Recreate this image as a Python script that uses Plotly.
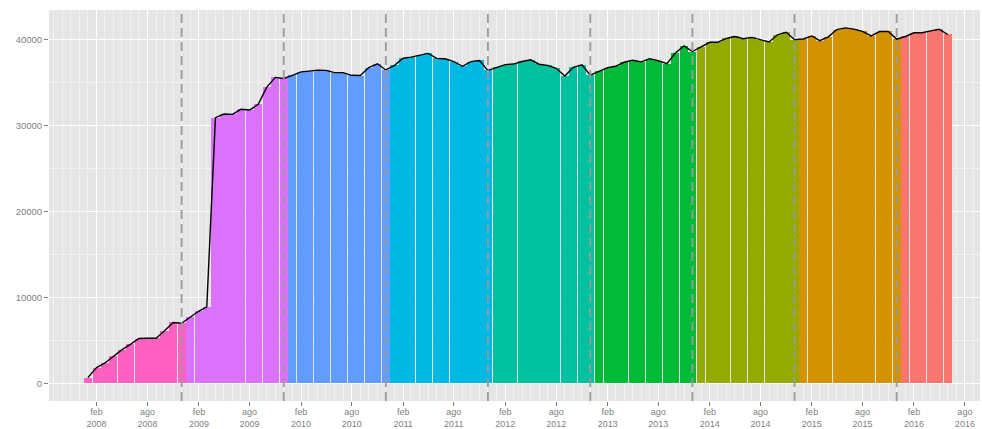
import pandas as pd
import plotly.graph_objects as go

# Monthly totals (first day of each month), one list per calendar year
v2008 = [650, 1820, 2330, 3120, 3880, 4530, 5200, 5230, 5230, 6110, 7070, 6980]
v2009 = [7700, 8400, 8900, 30900, 31320, 31280, 31870, 31790, 32450, 34430, 35590, 35470]
v2010 = [35830, 36230, 36320, 36430, 36410, 36140, 36140, 35830, 35800, 36730, 37170, 36450]
v2011 = [36990, 37820, 37950, 38170, 38380, 37800, 37750, 37430, 36880, 37420, 37560, 36400]
v2012 = [36760, 37080, 37140, 37440, 37630, 37120, 36990, 36650, 35740, 36760, 37060, 35850]
v2013 = [36280, 36720, 36880, 37350, 37590, 37400, 37770, 37530, 37180, 38430, 39260, 38600]
v2014 = [39150, 39670, 39670, 40120, 40350, 40080, 40240, 39980, 39710, 40540, 40830, 39980]
v2015 = [40060, 40410, 39860, 40300, 41150, 41350, 41210, 40940, 40410, 40920, 40940, 40040]
v2016 = [40350, 40780, 40780, 41000, 41180, 40580]

years = [2008, 2009, 2010, 2011, 2012, 2013, 2014, 2015, 2016]
values_by_year = [v2008, v2009, v2010, v2011, v2012, v2013, v2014, v2015, v2016]

# Yearly reference markers (1 December)
marker_dates = ["2008-12-01", "2009-12-01", "2010-12-01", "2011-12-01",
                "2012-12-01", "2013-12-01", "2014-12-01", "2015-12-01"]

# Axis ticks
x_tick_dates = ["2008-02-01", "2008-08-01", "2009-02-01", "2009-08-01", "2010-02-01",
                "2010-08-01", "2011-02-01", "2011-08-01", "2012-02-01", "2012-08-01",
                "2013-02-01", "2013-08-01", "2014-02-01", "2014-08-01", "2015-02-01",
                "2015-08-01", "2016-02-01", "2016-08-01"]
x_tick_labels = ["feb<br>2008", "ago<br>2008", "feb<br>2009", "ago<br>2009", "feb<br>2010",
                 "ago<br>2010", "feb<br>2011", "ago<br>2011", "feb<br>2012", "ago<br>2012",
                 "feb<br>2013", "ago<br>2013", "feb<br>2014", "ago<br>2014", "feb<br>2015",
                 "ago<br>2015", "feb<br>2016", "ago<br>2016"]
y_tick_values = [0, 10000, 20000, 30000, 40000]
y_tick_labels = ["0", "10000", "20000", "30000", "40000"]

palette = {2008: "#FF61C3", 2009: "#DB72FB", 2010: "#619CFF", 2011: "#00B9E3",
           2012: "#00C19F", 2013: "#00BA38", 2014: "#93AA00", 2015: "#D39200",
           2016: "#F8766D"}

DAY_MS = 86400000
fig = go.Figure()

all_dates, all_values = [], []
for year, vals in zip(years, values_by_year):
    dates = pd.date_range(f"{year}-01-01", periods=len(vals), freq="MS")
    all_dates.extend(dates)
    all_values.extend(vals)
    fig.add_trace(go.Bar(
        x=dates, y=vals, width=29 * DAY_MS,
        marker=dict(color=palette[year], line=dict(width=0)),
        showlegend=False, hoverinfo="skip",
    ))

fig.add_trace(go.Scatter(
    x=all_dates, y=all_values, mode="lines",
    line=dict(color="black", width=1.4),
    showlegend=False, hoverinfo="skip",
))

for d in marker_dates:
    fig.add_shape(type="line", xref="x", yref="paper", x0=d, x1=d, y0=0, y1=1,
                  line=dict(color="#9A9A9A", width=1.8, dash="9px,5px"), layer="above")

grid_months = pd.date_range("2007-08-01", "2016-09-01", freq="MS")
x_font = dict(family="Liberation Sans, Arial, sans-serif", size=9, color="#7F7F7F")
y_font = dict(family="Liberation Sans, Arial, sans-serif", size=9.5, color="#7F7F7F")

fig.update_layout(
    width=982, height=429,
    margin=dict(l=49, r=2, t=10, b=28),
    paper_bgcolor="white", plot_bgcolor="#E5E5E5",
    bargap=0, barmode="overlay",
    xaxis=dict(
        type="date", range=["2007-08-15", "2016-09-24"], automargin=False,
        tickmode="array", tickvals=x_tick_dates, ticktext=x_tick_labels,
        ticks="outside", ticklen=4, tickwidth=1, tickcolor="#7F7F7F",
        tickfont=x_font, ticklabelstandoff=-2,
        showgrid=True, gridcolor="white", gridwidth=1.1,
        minor=dict(tickmode="array", tickvals=list(grid_months), showgrid=True,
                   gridcolor="#F2F2F2", gridwidth=0.6, ticks=""),
        zeroline=False, showline=False,
    ),
    yaxis=dict(
        range=[-2068, 43430], automargin=False,
        tickmode="array", tickvals=y_tick_values, ticktext=y_tick_labels,
        ticks="outside", ticklen=4, tickwidth=1, tickcolor="#7F7F7F",
        tickfont=y_font,
        showgrid=True, gridcolor="white", gridwidth=1.1,
        minor=dict(tickmode="array", tickvals=[5000, 15000, 25000, 35000],
                   showgrid=True, gridcolor="#F2F2F2", gridwidth=0.6, ticks=""),
        zeroline=False, showline=False,
    ),
)

fig.write_html("out.html")
